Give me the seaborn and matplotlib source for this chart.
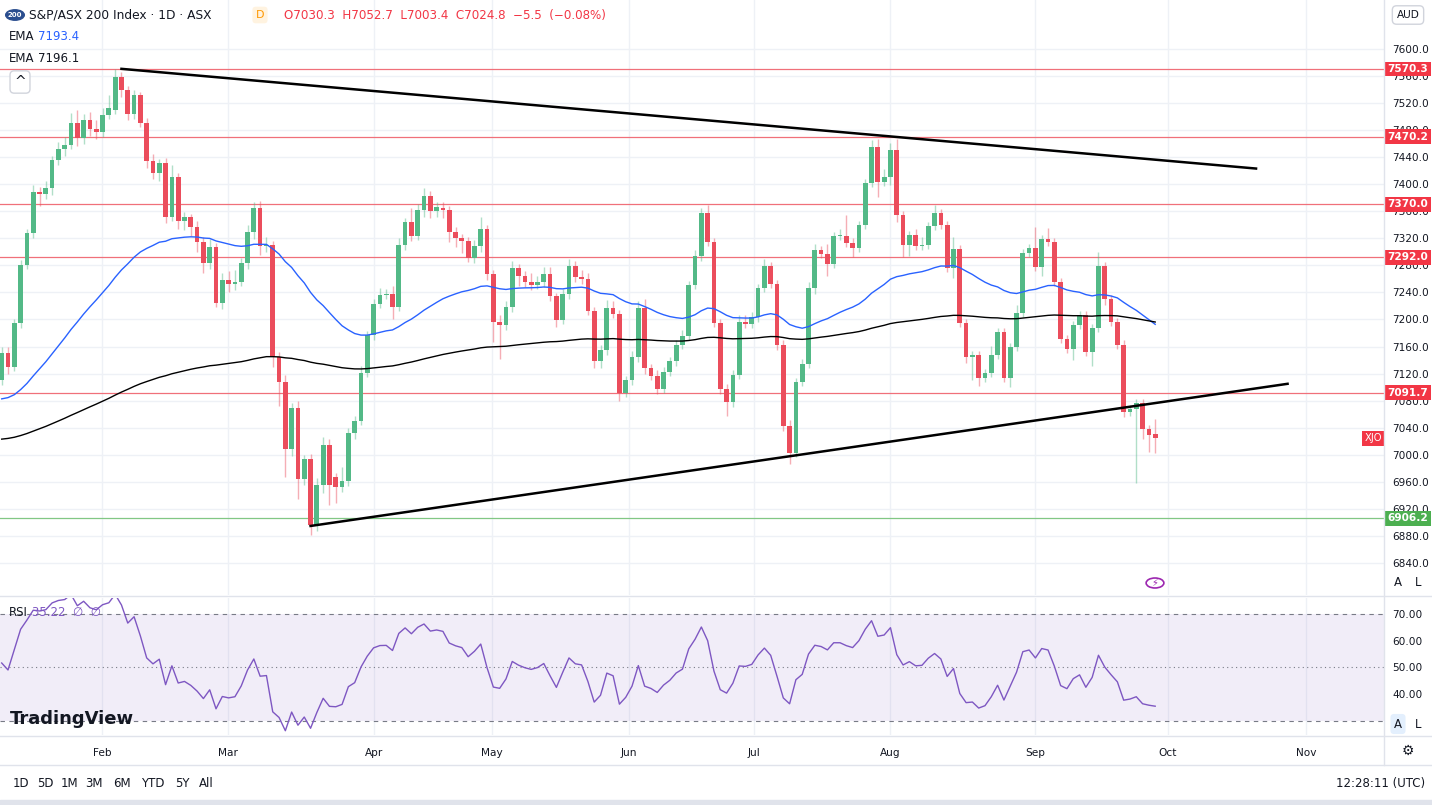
import numpy as np
import pandas as pd
import matplotlib
matplotlib.use("Agg")
import matplotlib.pyplot as plt
import seaborn as sns
from matplotlib.patches import Circle

# ---------------- data ----------------
opens = [7111,7151,7130,7195,7280,7328,7388,7386,7394,7436,7452,7458,7491,7468,7494,7481,7477,7502,7510,7558,
         7539,7504,7531,7490,7434,7417,7431,7351,7410,7346,7351,7336,7314,7284,7307,7224,7258,7252,7255,7283,
         7329,7365,7308,7310,7144,7108,7008,7069,6965,6994,6896,6956,7015,6967,6953,6962,7033,7050,7121,7177,
         7223,7236,7237,7218,7310,7344,7324,7362,7382,7360,7364,7362,7329,7321,7316,7291,7309,7334,7267,7197,
         7192,7219,7276,7264,7256,7251,7256,7267,7234,7199,7237,7279,7263,7260,7213,7138,7155,7217,7208,7091,
         7111,7145,7217,7128,7117,7098,7122,7138,7162,7175,7251,7294,7357,7314,7195,7098,7078,7118,7196,7194,
         7203,7246,7279,7252,7163,7042,7003,7108,7134,7246,7303,7297,7282,7323,7324,7313,7306,7340,7402,7455,
         7403,7410,7451,7354,7310,7325,7308,7310,7338,7357,7339,7276,7304,7195,7145,7147,7114,7121,7147,7182,
         7114,7159,7209,7298,7306,7277,7319,7314,7256,7171,7156,7192,7206,7152,7187,7279,7230,7196,7163,7064,
         7068,7076,7038,7030.3]
closes = [7150,7130,7195,7280,7328,7388,7386,7394,7436,7452,7458,7491,7468,7494,7481,7477,7502,7512,7558,7539,
          7504,7531,7490,7434,7417,7431,7351,7410,7346,7351,7336,7314,7284,7307,7224,7258,7252,7255,7283,7329,
          7365,7308,7310,7144,7108,7008,7069,6965,6994,6896,6956,7015,6956,6953,6962,7033,7050,7121,7177,7223,
          7236,7237,7218,7310,7344,7324,7362,7382,7360,7366,7362,7329,7321,7316,7291,7309,7334,7267,7197,7192,
          7219,7276,7264,7256,7251,7256,7267,7234,7199,7237,7279,7263,7260,7213,7138,7155,7217,7208,7091,7111,
          7145,7217,7128,7117,7098,7122,7138,7162,7175,7251,7294,7357,7314,7195,7098,7078,7118,7196,7194,7203,
          7246,7279,7252,7163,7042,7003,7108,7134,7246,7303,7297,7282,7324,7324,7313,7306,7340,7402,7455,7403,
          7410,7451,7354,7310,7325,7308,7310,7338,7357,7339,7276,7304,7195,7145,7147,7114,7121,7147,7182,7114,
          7159,7209,7298,7306,7277,7319,7314,7256,7171,7156,7192,7206,7152,7187,7279,7230,7196,7163,7064,7068,
          7076,7038,7030,7024.8]
wick_up = [10,8,6,8,5,10,8,10,6,10,12,14,18,10,12,14,10,20,12,8,
           6,8,5,8,10,6,8,18,6,8,5,10,8,12,6,10,14,18,8,10,
           8,10,12,6,8,10,8,10,6,8,10,12,8,6,20,6,8,10,6,8,
           10,8,12,10,6,20,8,12,8,8,10,6,8,5,6,8,18,6,6,10,
           8,10,6,8,12,8,10,10,5,8,10,8,10,8,6,8,12,10,6,5,
           8,10,14,6,8,8,6,8,10,6,8,8,12,6,6,6,8,10,10,8,
           6,10,6,6,6,10,6,8,10,8,6,14,6,10,30,8,6,6,10,12,
           12,10,15,6,6,8,12,6,12,6,6,18,6,6,6,6,6,14,6,6,
           6,12,6,6,30,6,16,6,6,6,6,6,6,6,20,6,6,6,6,6,
           6,6,6,22.7]
wick_dn = [8,10,6,8,6,8,18,8,10,8,10,6,12,8,10,10,8,6,6,10,
           10,8,6,10,10,12,8,6,12,14,12,14,16,10,6,8,12,8,6,8,
           10,12,8,14,36,40,10,30,10,14,8,12,30,24,8,8,10,6,6,8,
           6,6,18,6,8,8,6,10,10,8,12,14,14,18,6,8,10,8,30,50,
           8,8,14,8,8,6,8,6,10,6,6,8,8,6,10,10,8,6,12,6,
           8,8,8,6,8,6,6,6,6,6,6,8,6,6,8,20,8,6,6,6,
           6,6,6,8,6,16,6,6,6,8,6,18,6,6,6,14,6,6,6,22,
           6,12,10,18,16,6,6,6,6,6,6,14,6,10,34,12,6,6,6,6,
           14,6,6,6,6,12,6,6,6,6,16,6,6,20,6,8,6,6,8,6,
           110,14,26,21.6]

months = ["Feb", "Mar", "Apr", "May", "Jun", "Jul", "Aug", "Sep", "Oct", "Nov"]
month_pos = [15.9, 35.9, 59.1, 77.8, 99.5, 119.3, 140.9, 164.0, 185.0, 207.0]

levels_red = [7570.3, 7470.2, 7370.0, 7292.0, 7091.7]
level_green = 6906.2
upper_trend_x = [19, 199]
upper_trend_y = [7570.3, 7423]
lower_trend_x = [49, 204]
lower_trend_y = [6895, 7105]

EMA_FAST_SEED, EMA_SLOW_SEED = 7080, 7022
RSI_SEED_GAIN, RSI_SEED_LOSS = 13.0, 15.0
price_ticks = list(range(6840, 7601, 40))

# ---------------- computations ----------------
n = len(closes)
idx = np.arange(n)
df = pd.DataFrame({"i": idx, "o": opens, "c": closes})
df["h"] = np.maximum(df.o, df.c) + np.array(wick_up)
df["l"] = np.minimum(df.o, df.c) - np.array(wick_dn)
ema_fast = pd.Series([EMA_FAST_SEED] + closes).ewm(span=50, adjust=False).mean().iloc[1:].values
ema_slow = pd.Series([EMA_SLOW_SEED] + closes).ewm(span=200, adjust=False).mean().iloc[1:].values
ag, al = RSI_SEED_GAIN, RSI_SEED_LOSS
prev = opens[0]
rsi = []
for c in closes:
    ch = c - prev
    ag = (ag * 13 + max(ch, 0)) / 14
    al = (al * 13 + max(-ch, 0)) / 14
    rsi.append(100 - 100 / (1 + ag / al))
    prev = c
rsi = np.array(rsi)

# ---------------- figure ----------------
W, H = 1432, 805
fig = plt.figure(figsize=(W/100, H/100), dpi=100)
fig.patch.set_facecolor("white")
def fx(x): return x / W
def fy(y): return 1 - y / H

GREEN, RED = "#53b987", "#eb4d5c"
GRID = "#eef1f6"
XMIN, XMAX = -0.27, 219.3
FS = 7.6

ax = fig.add_axes([0, fy(595), fx(1384), 595/H])
rax = fig.add_axes([0, fy(735), fx(1384), 137/H], sharex=ax)

for a in (ax, rax):
    for s in a.spines.values():
        s.set_visible(False)
    a.tick_params(length=0)
    a.set_xlim(XMIN, XMAX)
    for m in month_pos:
        a.axvline(m, color=GRID, lw=1, zorder=0)

ax.set_ylim(6793, 7672)
ax.set_yticks(price_ticks)
ax.yaxis.tick_right()
ax.set_yticklabels([f"{t:.1f}" for t in price_ticks], fontsize=FS, color="#131722")
ax.tick_params(axis="y", pad=6)
for t in price_ticks:
    ax.axhline(t, color=GRID, lw=1, zorder=0)
ax.tick_params(axis="x", labelbottom=False)

def boxed(val, fc):
    ax.text(1.0025, val, f"{val:.1f}", transform=ax.get_yaxis_transform(), fontsize=FS,
            color="white", fontweight="bold", va="center", ha="left", clip_on=False, zorder=10,
            bbox=dict(boxstyle="square,pad=0.22", fc=fc, ec="none"))

for lv in levels_red:
    ax.axhline(lv, color="#f0707a", lw=0.9, zorder=1)
    boxed(lv, "#f23645")
ax.axhline(level_green, color="#81c784", lw=0.9, zorder=1)
boxed(level_green, "#4caf50")

# candles
up = df.c >= df.o
for mask, col in ((up, GREEN), (~up, RED)):
    sub = df[mask]
    ax.vlines(sub.i, sub.l, sub.h, color=col, lw=1, alpha=0.45, zorder=2)
    ax.bar(sub.i, (sub.c - sub.o).abs().clip(lower=1.5), bottom=np.minimum(sub.o, sub.c),
           width=0.75, color=col, zorder=3)

# EMAs
sns.lineplot(x=idx, y=ema_fast, ax=ax, color="#2962ff", lw=1, zorder=4)
sns.lineplot(x=idx, y=ema_slow, ax=ax, color="#000000", lw=1, zorder=4)

# trendlines
ax.plot(upper_trend_x, upper_trend_y, color="black", lw=1.8, zorder=5)
ax.plot(lower_trend_x, lower_trend_y, color="black", lw=1.8, zorder=5)

ax.text(XMAX - 0.3, closes[-1], "XJO", fontsize=7.2, color="white", ha="right", va="center",
        bbox=dict(boxstyle="square,pad=0.25", fc="#f23645", ec="none"), zorder=6)

# RSI
rax.set_ylim(24.6, 76)
rax.axhspan(30, 70, color="#7e57c2", alpha=0.1, lw=0)
for lv, ls in ((70, (0, (4, 4))), (50, (0, (1, 3))), (30, (0, (4, 4)))):
    rax.axhline(lv, color="#787b86", lw=0.8, ls=ls)
sns.lineplot(x=idx, y=rsi, ax=rax, color="#7e57c2", lw=1)
rax.set_yticks([40, 50, 60, 70])
rax.yaxis.tick_right()
rax.set_yticklabels(["40.00", "50.00", "60.00", "70.00"], fontsize=FS, color="#131722")
rax.tick_params(axis="y", pad=6)
rax.set_xticks(month_pos)
rax.set_xticklabels(months, fontsize=FS, color="#131722")
rax.tick_params(axis="x", pad=9)
rax.set_ylabel(""); ax.set_ylabel("")

# separators
for y in (596, 736, 765):
    fig.add_artist(plt.Line2D([0, 1], [fy(y), fy(y)], color="#e0e3eb", lw=1))
fig.add_artist(plt.Line2D([fx(1384), fx(1384)], [fy(0), fy(765)], color="#e0e3eb", lw=1))
fig.add_artist(plt.Rectangle((0, 0), 1, fy(800), color="#e0e3eb", transform=fig.transFigure))

# header
fig.add_artist(Circle((fx(15), fy(15)), 0.0065, transform=fig.transFigure, color="#2a4e8f"))
fig.text(fx(15), fy(15), "200", fontsize=5, color="white", ha="center", va="center", fontweight="bold")
fig.text(fx(29), fy(15), "S&P/ASX 200 Index · 1D · ASX", fontsize=8.8, color="#131722", va="center")
fig.text(fx(260), fy(15), "D", fontsize=8, color="#ff9800", va="center", ha="center",
         bbox=dict(boxstyle="round,pad=0.3", fc="#fff3e0", ec="none"))
fig.text(fx(284), fy(15), "O7030.3  H7052.7  L7003.4  C7024.8  −5.5  (−0.08%)", fontsize=8.6,
         color="#f23645", va="center")
fig.text(fx(9), fy(37), "EMA", fontsize=8.5, color="#131722", va="center")
fig.text(fx(38), fy(37), "7193.4", fontsize=8.5, color="#2962ff", va="center")
fig.text(fx(9), fy(59), "EMA", fontsize=8.5, color="#131722", va="center")
fig.text(fx(38), fy(59), "7196.1", fontsize=8.5, color="#131722", va="center")
fig.text(fx(20), fy(82), "^", fontsize=10, color="#131722", va="center", ha="center",
         bbox=dict(boxstyle="round,pad=0.3", fc="white", ec="#d1d4dc"))
fig.text(fx(1408), fy(15), "AUD", fontsize=7.6, color="#131722", va="center", ha="center",
         bbox=dict(boxstyle="round,pad=0.4", fc="white", ec="#d1d4dc"))
fig.text(fx(9), fy(612), "RSI", fontsize=8.5, color="#131722", va="center")
fig.text(fx(32), fy(612), "35.22  ∅  ∅", fontsize=8.5, color="#7e57c2", va="center")
fig.text(fx(10), fy(719), "TradingView", fontsize=13, color="#131722", va="center", fontweight="bold")
for x, y, s in ((1398, 582, "A"), (1418, 582, "L"), (1398, 724, "A"), (1418, 724, "L")):
    fig.text(fx(x), fy(y), s, fontsize=8.5, color="#131722", va="center", ha="center",
             bbox=(dict(boxstyle="round,pad=0.3", fc="#e3effd", ec="none") if (y == 724 and s == "A") else None))
fig.add_artist(Circle((fx(1155), fy(583)), 0.0062, transform=fig.transFigure, fc="none", ec="#9c27b0", lw=1.2))
fig.text(fx(1155), fy(583), "⚡", fontsize=7, color="#9c27b0", ha="center", va="center", fontfamily="DejaVu Sans")
fig.text(fx(1408), fy(751), "⚙", fontsize=10, color="#131722", ha="center", va="center")
x0 = 13
for lab in ["1D", "5D", "1M", "3M", "6M", "YTD", "5Y", "All"]:
    fig.text(fx(x0), fy(783), lab, fontsize=8.5, color="#131722", va="center")
    x0 += {"YTD": 34, "All": 30}.get(lab, 24 if len(lab) == 2 else 30) + (4 if lab[0] in "36" else 0)
fig.text(fx(1425), fy(783), "12:28:11 (UTC)", fontsize=8.5, color="#131722", va="center", ha="right")

fig.savefig("out.png", dpi=100)
